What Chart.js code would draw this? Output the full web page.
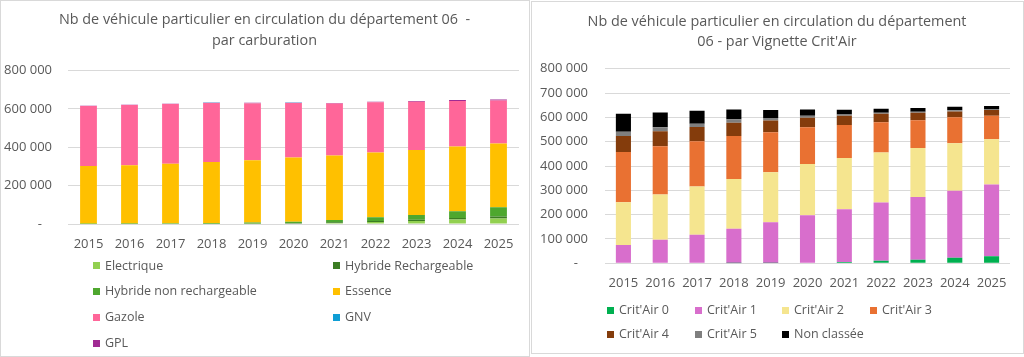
<!DOCTYPE html>
<html><head><meta charset="utf-8">
<script src="https://cdn.jsdelivr.net/npm/chart.js@4"></script>
<style>
html,body{margin:0;padding:0;background:#fff;}
body{width:1024px;height:357px;position:relative;overflow:hidden;font-family:"Open Sans",sans-serif;}
canvas{position:absolute;}
.frame{position:absolute;border:1px solid #D9D9D9;box-sizing:border-box;pointer-events:none;}
.leg{position:absolute;font-size:12.5px;color:#595959;white-space:nowrap;line-height:16px;}
.leg .b{position:absolute;width:7px;height:7px;top:4.5px;left:0;}
.leg .t{position:absolute;left:12px;top:0;}
</style></head>
<body>
<canvas id="c1" width="529" height="356" style="left:0;top:0"></canvas>
<canvas id="c2" width="492" height="352" style="left:531px;top:1px"></canvas>
<div class="frame" style="left:0;top:0;width:530px;height:357px"></div>
<div class="frame" style="left:531px;top:1px;width:493px;height:353px"></div>
<div id="leg1"></div>
<div id="leg2"></div>
<script>
// ---------- Data ----------
const years = ['2015','2016','2017','2018','2019','2020','2021','2022','2023','2024','2025'];

// Chart 1 : par carburation
const electrique          = [300, 500, 800, 1200, 1800, 2800, 5300, 10500, 15000, 23000, 28700];
const hybrideRechargeable = [100, 200, 400, 700, 1100, 2000, 3500, 5500, 7000, 8500, 10000];
const hybrideNonRech      = [1000, 2000, 2500, 3500, 5000, 7500, 12000, 19000, 25000, 35500, 48000];
const essence             = [301500, 303800, 309700, 318300, 324600, 334100, 335900, 337300, 339000, 336500, 332300];
const gazole              = [312600, 313200, 312000, 307500, 297400, 284700, 270800, 261800, 251000, 237500, 224100];
const gnv                 = [100, 100, 100, 100, 100, 200, 200, 200, 200, 300, 300];
const gpl                 = [1000, 2000, 1500, 2500, 2000, 2500, 2500, 3000, 3500, 4500, 6000];

// Chart 2 : par Vignette Crit'Air
const critAir0   = [0, 0, 0, 500, 1000, 2000, 5300, 10700, 14800, 23000, 28700];
const critAir1   = [75000, 97000, 117500, 141500, 167400, 196000, 217500, 239500, 258400, 274900, 295400];
const critAir2   = [176600, 186000, 198400, 205100, 206400, 210700, 210500, 205200, 201100, 195700, 185900];
const critAir3   = [206400, 198300, 185900, 176400, 164200, 150500, 135400, 124300, 113700, 106600, 97200];
const critAir4   = [65600, 61500, 58600, 55000, 48000, 39800, 38500, 35700, 31500, 24600, 23000];
const critAir5   = [17900, 16400, 14000, 13500, 11000, 8000, 5300, 4100, 4100, 4200, 4100];
const nonClassee = [73900, 61500, 53300, 41000, 32800, 26000, 19300, 16500, 14800, 15100, 12300];

const yTicks1Step = 200000;
const yTicks2Step = 100000;
const yMax = 800000;

const title1 = ['Nb de véhicule particulier en circulation du département 06  -', 'par carburation'];
const title2 = ['Nb de véhicule particulier en circulation du département', "06 - par Vignette Crit'Air"];

// ---------- Helpers ----------
const TXT = '#595959';
const GRID = '#D9D9D9';
const FONT = '"Open Sans", sans-serif';
function fmt(v){ if(v===0) return '-   '; return String(v).replace(/\B(?=(\d{3})+(?!\d))/g,' '); }

function ds(label, data, color){
  return {label, data, backgroundColor: color, borderWidth: 0,
          barPercentage: 0.41, categoryPercentage: 1.0};
}

function makeOptions(title, step, yWidth, yPad, rightGap, padB, titlePadTop, titlePadBottom){
  return {
    responsive:false, animation:false,
    layout:{padding:{left:0,right:0,top:0,bottom:padB}},
    plugins:{
      legend:{display:false},
      tooltip:{enabled:false},
      title:{display:true, text:title, color:TXT,
        font:{family:FONT,size:14.4,weight:'normal',lineHeight:1.42},
        padding:{top:titlePadTop,bottom:titlePadBottom}}
    },
    scales:{
      x:{stacked:true, grid:{display:false}, border:{display:false},
         ticks:{color:TXT,font:{family:FONT,size:13},padding:4,maxRotation:0},
         afterFit:(s)=>{s.height=30;}},
      y:{stacked:true, min:0, max:yMax, grid:{color:GRID,lineWidth:1,drawTicks:false},
         border:{display:false},
         ticks:{stepSize:step,color:TXT,font:{family:FONT,size:13},padding:yPad,callback:(v)=>fmt(v)},
         afterFit:(s)=>{s.width=yWidth;}},
      // empty spacer axis reserving the right margin of the plot area
      gap:{type:'linear', position:'right', grid:{display:false}, border:{display:false},
         ticks:{display:false}, afterFit:(s)=>{s.width=rightGap;}}
    }
  };
}

const chart1 = new Chart(document.getElementById('c1'), {
  type:'bar',
  data:{labels:years, datasets:[
    ds('Electrique', electrique, '#92D050'),
    ds('Hybride Rechargeable', hybrideRechargeable, '#3B7D23'),
    ds('Hybride non rechargeable', hybrideNonRech, '#4EA72E'),
    ds('Essence', essence, '#FFC000'),
    ds('Gazole', gazole, '#FF6699'),
    ds('GNV', gnv, '#0F9ED5'),
    ds('GPL', gpl, '#A02B93')
  ]},
  options: makeOptions(title1, yTicks1Step, 68, 16, 10, 102, 10, 19.6)
});

const chart2 = new Chart(document.getElementById('c2'), {
  type:'bar',
  data:{labels:years, datasets:[
    ds("Crit'Air 0", critAir0, '#00B050'),
    ds("Crit'Air 1", critAir1, '#D86ECC'),
    ds("Crit'Air 2", critAir2, '#F5E58F'),
    ds("Crit'Air 3", critAir3, '#E97132'),
    ds("Crit'Air 4", critAir4, '#843C0C'),
    ds("Crit'Air 5", critAir5, '#7F7F7F'),
    ds('Non classée', nonClassee, '#000000')
  ]},
  options: makeOptions(title2, yTicks2Step, 74, 17, 13, 59.7, 10.5, 16.4)
});

// ---------- HTML legends built from the charts' datasets ----------
function buildLegend(chart, containerId, cols, colX, rowY){
  const c = document.getElementById(containerId);
  chart.data.datasets.forEach((d,i)=>{
    const r = Math.floor(i/cols), k = i%cols;
    const el = document.createElement('div');
    el.className='leg';
    el.style.left = colX[k]+'px';
    el.style.top = (rowY[r]-8)+'px';
    const b = document.createElement('span'); b.className='b'; b.style.background=d.backgroundColor;
    const t = document.createElement('span'); t.className='t'; t.textContent=d.label;
    el.appendChild(b); el.appendChild(t); c.appendChild(el);
  });
}
buildLegend(chart1,'leg1',2,[93,333],[265.5,291,317,343]);
buildLegend(chart2,'leg2',4,[607,695,782,870],[310,334.3]);
</script>
</body></html>
